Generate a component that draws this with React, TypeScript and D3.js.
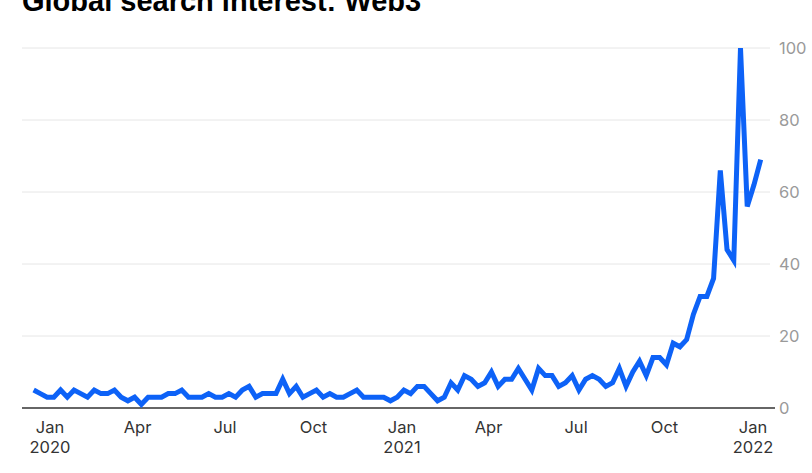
import { useEffect, useRef } from 'react'
import * as d3 from 'd3'

// Weekly Google Trends values, first week starting Dec 15 2019
const firstWeek = new Date(2019, 11, 15)
const interest: number[] = [
  5, 4, 3, 3, 5, 3, 5, 4, 3, 5, 4, 4, 5, 3, 2, 3, 1, 3, 3, 3,
  4, 4, 5, 3, 3, 3, 4, 3, 3, 4, 3, 5, 6, 3, 4, 4, 4, 8, 4, 6,
  3, 4, 5, 3, 4, 3, 3, 4, 5, 3, 3, 3, 3, 2, 3, 5, 4, 6, 6, 4,
  2, 3, 7, 5, 9, 8, 6, 7, 10, 6, 8, 8, 11, 8, 5, 11, 9, 9, 6, 7,
  9, 5, 8, 9, 8, 6, 7, 11, 6, 10, 13, 9, 14, 14, 12, 18, 17, 19, 26, 31,
  31, 36, 66, 44, 41, 100, 56, 62, 69,
]

const yTicks = [0, 20, 40, 60, 80, 100]
const xTicks: { date: Date; month: string; year?: string }[] = [
  { date: new Date(2020, 0, 1), month: 'Jan', year: '2020' },
  { date: new Date(2020, 3, 1), month: 'Apr' },
  { date: new Date(2020, 6, 1), month: 'Jul' },
  { date: new Date(2020, 9, 1), month: 'Oct' },
  { date: new Date(2021, 0, 1), month: 'Jan', year: '2021' },
  { date: new Date(2021, 3, 1), month: 'Apr' },
  { date: new Date(2021, 6, 1), month: 'Jul' },
  { date: new Date(2021, 9, 1), month: 'Oct' },
  { date: new Date(2022, 0, 1), month: 'Jan', year: '2022' },
]

const title = 'Global search interest: Web3'

export default function App() {
  const svgRef = useRef<SVGSVGElement>(null)
  const width = 812
  const height = 473

  useEffect(() => {
    if (!svgRef.current) return
    const svg = d3.select(svgRef.current)
    svg.selectAll('*').remove()

    const font = 'Inter, "Liberation Sans", Arial, sans-serif'
    const left = 22
    const right = 775

    const data = interest.map((v, i) => ({ date: d3.timeWeek.offset(firstWeek, i), value: v }))

    const x = d3.scaleTime()
      .domain([new Date(2020, 0, 1), new Date(2022, 0, 1)])
      .range([50, 753])

    const y = d3.scaleLinear()
      .domain([0, 100])
      .range([408, 48])

    svg.append('rect')
      .attr('width', width)
      .attr('height', height)
      .attr('fill', '#ffffff')

    // title, partly cut off at the top as in the source
    svg.append('text')
      .attr('x', left)
      .attr('y', 11)
      .attr('font-family', '"Liberation Sans", Arial, sans-serif')
      .attr('font-weight', 700)
      .attr('font-size', 29)
      .attr('fill', '#000')
      .text(title)

    // horizontal grid
    svg.selectAll('.grid')
      .data(yTicks.filter(t => t > 0))
      .enter()
      .append('line')
      .attr('x1', left)
      .attr('x2', 770)
      .attr('y1', d => y(d))
      .attr('y2', d => y(d))
      .attr('stroke', '#e6e6e6')
      .attr('stroke-width', 1)

    // baseline
    svg.append('line')
      .attr('x1', left)
      .attr('x2', right)
      .attr('y1', y(0))
      .attr('y2', y(0))
      .attr('stroke', '#333')
      .attr('stroke-width', 1.5)

    // y labels on the right
    svg.selectAll('.ylab')
      .data(yTicks)
      .enter()
      .append('text')
      .attr('x', 779)
      .attr('y', d => y(d))
      .attr('dy', '0.36em')
      .attr('font-family', font)
      .attr('font-size', 16.5)
      .attr('fill', '#9a9a9a')
      .text(d => d)

    // x labels
    const xl = svg.selectAll('.xlab')
      .data(xTicks)
      .enter()
      .append('text')
      .attr('font-family', font)
      .attr('font-size', 16.5)
      .attr('fill', '#333')
      .attr('text-anchor', 'middle')

    xl.append('tspan')
      .attr('x', d => x(d.date))
      .attr('y', 433)
      .text(d => d.month)

    xl.filter(d => !!d.year)
      .append('tspan')
      .attr('x', d => x(d.date))
      .attr('y', 453)
      .text(d => d.year as string)

    const line = d3.line<{ date: Date; value: number }>()
      .x(d => x(d.date))
      .y(d => y(d.value))

    svg.append('path')
      .datum(data)
      .attr('d', line)
      .attr('fill', 'none')
      .attr('stroke', '#0d62f7')
      .attr('stroke-width', 5)
      .attr('stroke-linejoin', 'miter')
  }, [])

  return (
    <svg
      ref={svgRef}
      width={width}
      height={height}
      style={{ position: 'absolute', left: 0, top: 0, display: 'block' }}
    />
  )
}
